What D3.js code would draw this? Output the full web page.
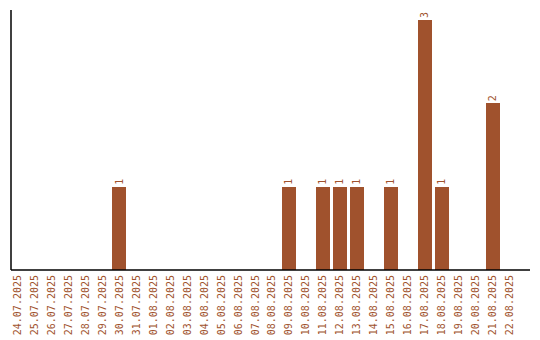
<!DOCTYPE html>
<html>
<head>
<meta charset="utf-8">
<script src="https://d3js.org/d3.v7.min.js"></script>
<style>
  body { margin: 0; background: #fff; }
  text { font-family: "DejaVu Sans Mono", monospace; font-size: 10px; fill: #a0522d; }
</style>
</head>
<body>
<div id="chart"></div>
<script>
// data
var days = ['24.07.2025','25.07.2025','26.07.2025','27.07.2025','28.07.2025','29.07.2025','30.07.2025',
  '31.07.2025','01.08.2025','02.08.2025','03.08.2025','04.08.2025','05.08.2025','06.08.2025',
  '07.08.2025','08.08.2025','09.08.2025','10.08.2025','11.08.2025','12.08.2025','13.08.2025',
  '14.08.2025','15.08.2025','16.08.2025','17.08.2025','18.08.2025','19.08.2025','20.08.2025',
  '21.08.2025','22.08.2025'];
var counts = [0,0,0,0,0,0,1, 0,0,0,0,0,0,0, 0,0,1,0,1,1,1, 0,1,0,3,1,0,0, 2,0];

var width = 540, height = 340;
var svg = d3.select("#chart").append("svg")
  .attr("width", width).attr("height", height);

var x = d3.scaleBand()
  .domain(days)
  .range([7, 520])
  .paddingInner(0.18)
  .paddingOuter(0.18);

var y = d3.scaleLinear()
  .domain([0, 3])
  .range([270, 20]);

var data = days.map(function(d, i) { return {day: d, n: counts[i]}; });

// bars
svg.append("g").selectAll("rect")
  .data(data.filter(function(d){ return d.n > 0; }))
  .enter().append("rect")
  .attr("x", function(d){ return x(d.day); })
  .attr("y", function(d){ return y(d.n); })
  .attr("width", x.bandwidth())
  .attr("height", function(d){ return y(0) - y(d.n); })
  .attr("fill", "#a0522d")
  .attr("shape-rendering", "crispEdges");

// value labels
svg.append("g").selectAll("text")
  .data(data.filter(function(d){ return d.n > 0; }))
  .enter().append("text")
  .attr("transform", function(d){
    return "translate(" + (x(d.day) + x.bandwidth()/2 + 3.5) + "," + (y(d.n) - 2) + ") rotate(-90)";
  })
  .text(function(d){ return d.n; });

// axes lines
svg.append("line").attr("x1", 11).attr("x2", 11).attr("y1", 10).attr("y2", 270)
  .attr("stroke", "#000").attr("stroke-width", 1.5);
svg.append("line").attr("x1", 11).attr("x2", 530).attr("y1", 270).attr("y2", 270)
  .attr("stroke", "#000").attr("stroke-width", 1.5);

// x labels
svg.append("g").selectAll("text")
  .data(days)
  .enter().append("text")
  .attr("text-anchor", "end")
  .attr("transform", function(d){
    return "translate(" + (x(d) + x.bandwidth()/2 + 3.5) + ",275) rotate(-90)";
  })
  .text(function(d){ return d; });
</script>
</body>
</html>
